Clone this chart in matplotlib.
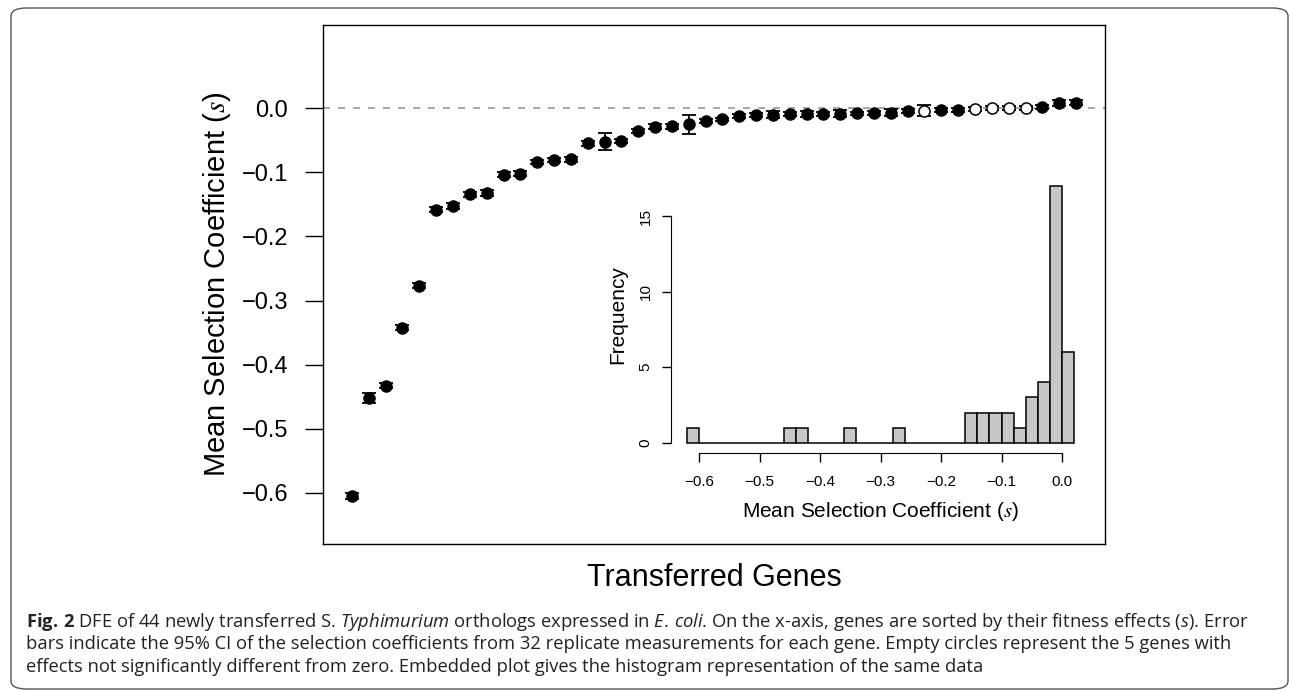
import numpy as np
import matplotlib
matplotlib.use("Agg")
import matplotlib.pyplot as plt
from matplotlib.patches import FancyBboxPatch
from matplotlib.ticker import FuncFormatter

# mean selection coefficients, genes sorted by effect
s_mean = [-0.605, -0.452, -0.433, -0.3425, -0.2766, -0.1585, -0.1525, -0.134,
          -0.132, -0.1037, -0.102, -0.0835, -0.0813, -0.0793, -0.0548, -0.052,
          -0.0508, -0.035, -0.029, -0.028, -0.0252, -0.0192, -0.0174, -0.0123,
          -0.0107, -0.0102, -0.0095, -0.0093, -0.0085, -0.0083, -0.0081, -0.0075,
          -0.0072, -0.0042, -0.004, -0.0032, -0.003, -0.0012, 0.0004, 0.0006,
          0.0008, 0.0022, 0.0083, 0.0086]
# half width of the 95% CI
s_ci = [0.004, 0.008, 0.004, 0.004, 0.004, 0.004, 0.004, 0.004, 0.005, 0.004,
        0.004, 0.003, 0.003, 0.004, 0.004, 0.013, 0.003, 0.003, 0.004, 0.004,
        0.0155, 0.003, 0.003, 0.003, 0.003, 0.0055, 0.003, 0.005, 0.003, 0.005,
        0.003, 0.003, 0.0055, 0.003, 0.0085, 0.003, 0.003, 0.003, 0.003, 0.003,
        0.003, 0.003, 0.004, 0.004]
# genes not significantly different from zero (1-based rank)
not_sig = [35, 38, 39, 40, 41]

yticks = [-0.6, -0.5, -0.4, -0.3, -0.2, -0.1, 0.0]
hist_xticks = [-0.6, -0.5, -0.4, -0.3, -0.2, -0.1, 0.0]
hist_yticks = [0, 5, 10, 15]

caption = [
    r"$\bf{Fig.\,2}$ DFE of 44 newly transferred S. $\it{Typhimurium}$ orthologs expressed in "
    r"$\it{E.\,coli}$. On the x-axis, genes are sorted by their fitness effects ($\it{s}$). Error",
    "bars indicate the 95% CI of the selection coefficients from 32 replicate measurements for "
    "each gene. Empty circles represent the 5 genes with",
    "effects not significantly different from zero. Embedded plot gives the histogram "
    "representation of the same data",
]

plt.rcParams["font.family"] = ["Liberation Sans", "DejaVu Sans"]
plt.rcParams["mathtext.rm"] = "Open Sans"
plt.rcParams["mathtext.it"] = "Open Sans:italic"
plt.rcParams["mathtext.bf"] = "Open Sans:bold"

W, H = 1290, 691
fig = plt.figure(figsize=(W / 100, H / 100), dpi=100)

def fbox(left, top, right, bottom):
    return [left / W, 1 - bottom / H, (right - left) / W, (bottom - top) / H]

# outer frame
frame = FancyBboxPatch((11 / W, 2 / H), 1277 / W, 681 / H,
                       boxstyle="round,pad=0,rounding_size=0.012",
                       transform=fig.transFigure, fill=False,
                       edgecolor="#555555", lw=1.0)
fig.patches.append(frame)

fmt = FuncFormatter(lambda v, p: f"{v:.1f}".replace("-", "\u2212"))

# main panel
ax = fig.add_axes(fbox(323, 25, 1105, 544))
x = np.arange(1, len(s_mean) + 1)
s = np.array(s_mean)
open_mask = np.isin(x, not_sig)

ax.axhline(0, color="#999999", lw=1.2, ls=(0, (4.2, 4.8)), zorder=1)
ax.errorbar(x, s, yerr=s_ci, fmt="none", ecolor="black", elinewidth=1.3,
            capsize=5, capthick=1.3, zorder=2)
ax.plot(x[~open_mask], s[~open_mask], "o", ms=8, color="black", zorder=3)
ax.plot(x[open_mask], s[open_mask], "o", ms=8, mfc="white", mec="black",
        mew=1.1, zorder=3)

ax.set_xlim(-0.72, 45.72)
ax.set_ylim(-0.68, 0.13)
ax.set_xticks([])
ax.set_yticks(yticks)
ax.yaxis.set_major_formatter(fmt)
ax.tick_params(axis="y", length=13, width=1.0, pad=12, labelsize=17)
for sp in ax.spines.values():
    sp.set_linewidth(1.0)
ax.set_ylabel(r"Mean Selection Coefficient ($s$)", fontsize=21,
              math_fontfamily="stix", labelpad=6)
ax.set_xlabel("Transferred Genes", fontsize=22, labelpad=14)

# inset histogram
axi = fig.add_axes(fbox(671.5, 175.7, 1089.6, 453))
axi.patch.set_visible(False)
bins = np.linspace(-0.62, 0.02, 33)
axi.hist(s, bins=bins, color="#c9c6c6", edgecolor="black", linewidth=1.1)
axi.set_xlim(-0.6456, 0.0456)
axi.set_ylim(-0.68, 17.68)
axi.spines["top"].set_visible(False)
axi.spines["right"].set_visible(False)
axi.spines["left"].set_bounds(0, 15)
axi.spines["bottom"].set_bounds(-0.6, 0.0)
axi.set_xticks(hist_xticks)
axi.set_yticks(hist_yticks)
axi.xaxis.set_major_formatter(fmt)
axi.tick_params(axis="both", length=6.5, width=1.0, labelsize=11)
axi.tick_params(axis="x", pad=9)
axi.tick_params(axis="y", pad=7, labelrotation=90)
for lab in axi.get_yticklabels():
    lab.set_va("center")
axi.set_ylabel("Frequency", fontsize=15, labelpad=8)
axi.set_xlabel(r"Mean Selection Coefficient ($s$)", fontsize=15,
               math_fontfamily="stix", labelpad=8)

# caption
for i, line in enumerate(caption):
    fig.text(26 / W, 1 - (626.7 + 22.5 * i) / H, line, fontsize=13.2,
             family="Open Sans", va="baseline", ha="left", color="#222222",
             math_fontfamily="custom")

fig.savefig("out.png", dpi=100)
